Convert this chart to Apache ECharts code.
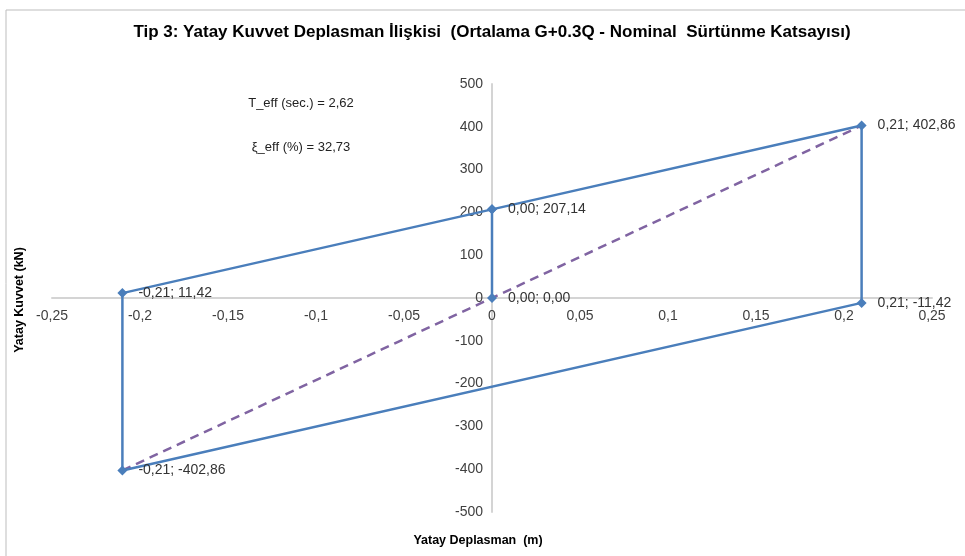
<!DOCTYPE html>
<html><head><meta charset="utf-8">
<script src="https://cdn.jsdelivr.net/npm/echarts@6/dist/echarts.min.js"></script>
<style>html,body{margin:0;padding:0;background:#fff}#c{width:965px;height:556px}</style>
</head><body><div id="c"></div>
<script>
const loopX = [0, 0, 0.21, 0.21, -0.21, -0.21, 0];
const loopY = [0, 207.14, 402.86, -11.42, -402.86, 11.42, 207.14];
const loopLabelShown = [true, true, true, true, true, true, false];
const effX = [-0.21, 0.21];
const effY = [-402.86, 402.86];
const xTicks = {min: -0.25, max: 0.25, step: 0.05};
const yTicks = {min: -500, max: 500, step: 100};
const titleText = 'Tip 3: Yatay Kuvvet Deplasman İlişkisi  (Ortalama G+0.3Q - Nominal  Sürtünme Katsayısı)';
const noteTexts = ['T_eff (sec.) = 2,62', 'ξ_eff (%) = 32,73'];
const xName = 'Yatay Deplasman  (m)';
const yName = 'Yatay Kuvvet (kN)';

const fmt = v => v.toFixed(2).replace('.', ',');
const font = '"Liberation Sans", Arial, sans-serif';
const G = {left: 52, right: 33, top: 84, bottom: 44};
const W = 965, H = 556;
const plotW = W - G.left - G.right, plotH = H - G.top - G.bottom;
// axis crossing offsets derived from the scale (zero position inside the grid)
const yAxisOffset = -plotW * (0 - xTicks.min) / (xTicks.max - xTicks.min);
const xAxisOffset = -plotH * (0 - yTicks.min) / (yTicks.max - yTicks.min);

const chart = echarts.init(document.getElementById('c'), null, {renderer: 'canvas'});
chart.setOption({
  animation: false,
  backgroundColor: '#fff',
  grid: {left: G.left, right: G.right, top: G.top, bottom: G.bottom, containLabel: false},
  graphic: [
    {type: 'rect', shape: {x: 6, y: 10, width: 990, height: 580}, style: {fill: 'none', stroke: '#bdbdbd', lineWidth: 1}, z: -1},
    {type: 'text', x: 492, y: 32, style: {text: titleText, font: 'bold 17px ' + font, fill: '#000', align: 'center', verticalAlign: 'middle'}},
    {type: 'text', x: 301, y: 103, style: {text: noteTexts[0], font: '13px ' + font, fill: '#222', align: 'center', verticalAlign: 'middle'}},
    {type: 'text', x: 301, y: 147, style: {text: noteTexts[1], font: '13px ' + font, fill: '#222', align: 'center', verticalAlign: 'middle'}},
    {type: 'text', x: 478, y: 541, style: {text: xName, font: 'bold 12.5px ' + font, fill: '#000', align: 'center', verticalAlign: 'middle'}},
    {type: 'text', x: 20, y: 300, rotation: Math.PI / 2, style: {text: yName, font: 'bold 12.5px ' + font, fill: '#000', align: 'center', verticalAlign: 'middle'}}
  ],
  xAxis: {
    type: 'value', min: xTicks.min, max: xTicks.max, interval: xTicks.step,
    position: 'bottom', offset: xAxisOffset,
    axisLine: {show: true, onZero: false, lineStyle: {color: '#d4d4d4', width: 2}},
    axisTick: {show: false},
    splitLine: {show: false},
    axisLabel: {color: '#404040', fontSize: 14, fontFamily: font, margin: 11,
      formatter: v => String(Math.round(v * 100) / 100).replace('.', ','), showMinLabel: true, showMaxLabel: true}
  },
  yAxis: {
    type: 'value', min: yTicks.min, max: yTicks.max, interval: yTicks.step,
    position: 'left', offset: yAxisOffset,
    axisLine: {show: true, onZero: false, lineStyle: {color: '#d4d4d4', width: 2}},
    axisTick: {show: false},
    splitLine: {show: false},
    axisLabel: {color: '#404040', fontSize: 14, fontFamily: font, margin: 9}
  },
  series: [
    {
      type: 'line',
      data: effX.map((x, i) => [x, effY[i]]),
      showSymbol: false, symbol: 'none',
      lineStyle: {color: '#8064a2', width: 2.5, type: [9, 6]},
      z: 2
    },
    {
      type: 'line',
      data: loopX.map((x, i) => ({value: [x, loopY[i]], label: {show: loopLabelShown[i]}})),
      symbol: 'diamond', symbolSize: 10,
      itemStyle: {color: '#4a7ebb'},
      lineStyle: {color: '#4a7ebb', width: 2.5},
      label: {show: true, position: 'right', distance: 11, color: '#333', fontSize: 14, fontFamily: font,
        formatter: p => fmt(p.value[0]) + '; ' + fmt(p.value[1])},
      z: 3
    }
  ]
});
</script></body></html>
